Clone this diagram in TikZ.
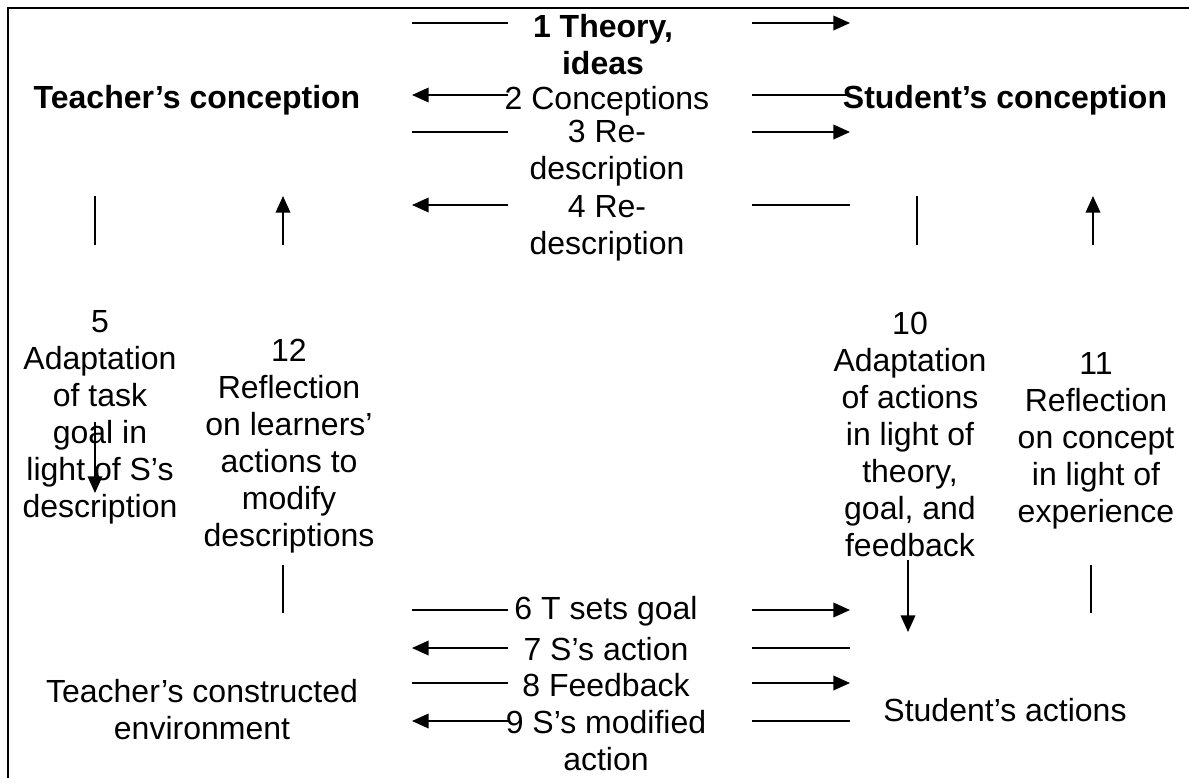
\documentclass[tikz,border=0pt]{standalone}
\usepackage{fontspec}
\setmainfont{Liberation Sans}
\usetikzlibrary{arrows.meta}
\begin{document}
\begin{tikzpicture}[x=0.75pt,y=-0.75pt,
  txt/.style={align=center,inner sep=0pt,font=\fontsize{24}{27.75}\selectfont},
  btxt/.style={txt,font=\fontsize{24}{27.75}\selectfont\bfseries},
  seg/.style={line width=1.2pt},
  arr/.style={seg,-{Triangle[length=12.5pt,width=11pt]}}]
\useasboundingbox(0,0)rectangle(1189,778);
\draw[line width=2.2pt](1189,8)--(8,8)--(8,778);
%
\node[btxt](tconc)at(197,100){Teacher's conception};
\node[btxt](sconc)at(1005,100){Student's conception};
\node[btxt](theory)at(603,45){1 Theory,\\ideas};
\node[txt](concep)at(607,101){2 Conceptions};
\node[txt](redesca)at(607,153){3 Re-\\description};
\node[txt](redescb)at(607,228){4 Re-\\description};
%
\node[txt](adapt)at(100,417){5\\Adaptation\\of task\\goal in\\light of S's\\description};
\node[txt](reflect)at(289,446){12\\Reflection\\on learners'\\actions to\\modify\\descriptions};
\node[txt](adaptact)at(910,434){10\\Adaptation\\of actions\\in light of\\theory,\\goal, and\\feedback};
\node[txt](reflcon)at(1096,441){11\\Reflection\\on concept\\in light of\\experience};
%
\node[txt](tenv)at(202,710){Teacher's constructed\\environment};
\node[txt](sact)at(1005,710){Student's actions};
\node[txt](tgoal)at(606,611){6 T sets goal};
\node[txt](saction)at(606,649){7 S's action};
\node[txt](feedb)at(606,685){8 Feedback};
\node[txt](smod)at(606,741){9 S's modified\\action};
%===========================
% horizontal pieces, teacher to student
\foreach \y/\n in {23/1,132/3,610/6,683/8}{
\coordinate(a\n)at(412,\y);\coordinate(b\n)at(508,\y);
\coordinate(c\n)at(752,\y);\coordinate(d\n)at(850,\y);
\draw[seg](a\n)--(b\n);\draw[arr](c\n)--(d\n);}
% student to teacher
\foreach \y/\n in {95/2,205/4,648/7,721/9}{
\coordinate(a\n)at(412,\y);\coordinate(b\n)at(508,\y);
\coordinate(c\n)at(752,\y);\coordinate(d\n)at(850,\y);
\draw[arr](b\n)--(a\n);\draw[seg](d\n)--(c\n);}
%===========================
% vertical pieces
\foreach \x/\n in {95/5,917/10}{
\coordinate(u\n)at(\x,196);\coordinate(v\n)at(\x,245);
\draw[seg](u\n)--(v\n);}
\foreach \x/\n in {283/12,1093/11}{
\coordinate(u\n)at(\x,196);\coordinate(v\n)at(\x,245);
\draw[arr](v\n)--(u\n);}
\coordinate(p5)at(95,422);\coordinate(q5)at(95,493);
\draw[arr](p5)--(q5);
\coordinate(p10)at(908,560);\coordinate(q10)at(908,632);
\draw[arr](p10)--(q10);
\foreach \x/\n in {283/12,1091/11}{
\coordinate(p\n)at(\x,565);\coordinate(q\n)at(\x,613);
\draw[seg](p\n)--(q\n);}
\end{tikzpicture}
\end{document}
